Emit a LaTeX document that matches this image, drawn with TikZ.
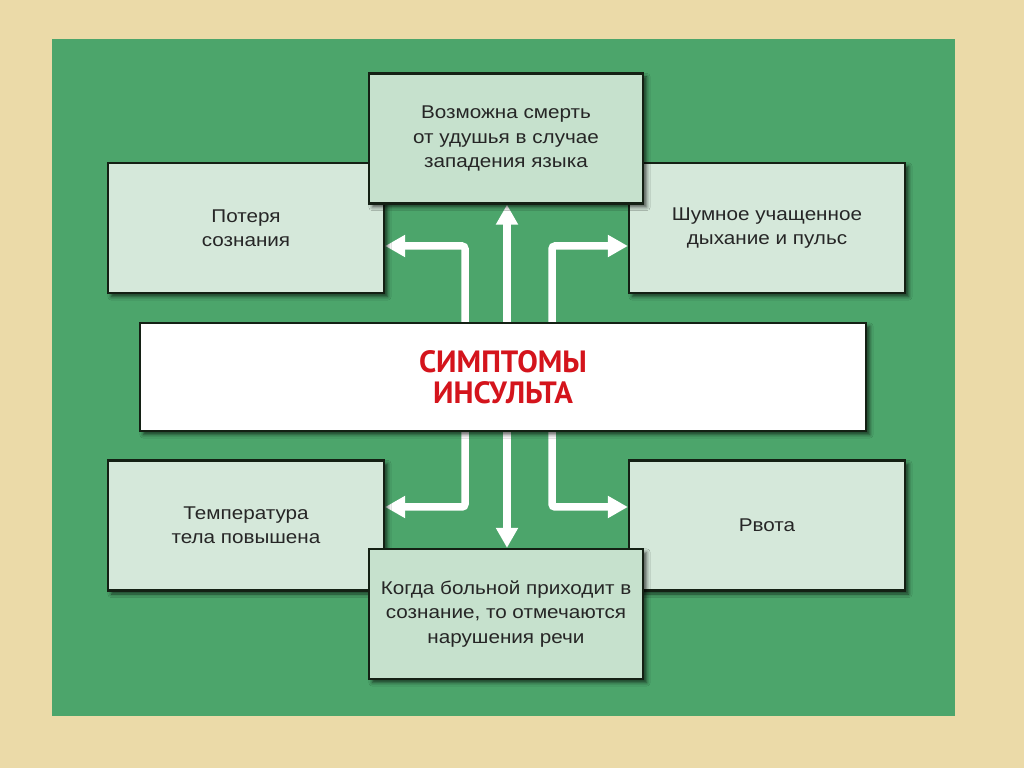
\documentclass[tikz,border=0pt]{standalone}
\usepackage{fontspec}
\setmainfont{Liberation Sans}[FakeStretch=1.12]
\newfontfamily\titlefont{PT Sans}
\usetikzlibrary{arrows.meta,positioning,shadows.blur,backgrounds}

\definecolor{paper}{HTML}{EBDAA8}
\definecolor{panel}{HTML}{4CA56B}
\definecolor{boxfill}{HTML}{D5E8DA}
\definecolor{boxfilldark}{HTML}{C6E1CD}
\definecolor{titlered}{HTML}{D4141C}
\definecolor{edge}{HTML}{142014}

\tikzset{
  symbox/.style={draw=edge, line width=0.45mm, fill=boxfill, align=center,
    minimum width=55.2mm, minimum height=26mm, inner sep=0pt,
    font=\fontsize{10.5}{13.7}\selectfont, text=black!85,
    blur shadow={shadow xshift=0.7mm, shadow yshift=-0.7mm,
      shadow blur steps=5, shadow opacity=65}},
  keybox/.style={symbox, fill=boxfilldark, minimum width=54.8mm, minimum height=26mm},
  mainbox/.style={symbox, fill=white, minimum width=145.2mm, minimum height=21.6mm,
    font=\titlefont\bfseries\fontsize{17.5}{17.8}\selectfont, text=titlered},
  arr/.style={draw=white, line width=1.5mm, rounded corners=0.6mm,
    -{Triangle[length=4mm,width=4.2mm]}},
}

\begin{document}
\begin{tikzpicture}[x=0.2mm, y=-0.2mm]
  \useasboundingbox (0,0) rectangle (1024,768);

  % side boxes
  \node[symbox] (lt) at (246,228)   {Потеря\\сознания};
  \node[symbox] (rt) at (767,228)   {Шумное учащенное\\дыхание и пульс};
  \node[symbox] (lb) at (246,525.5) {Температура\\тела повышена};
  \node[symbox] (rb) at (767,525.5) {Рвота};
  % top and bottom boxes
  \node[keybox] (top) at (506,138.5) {Возможна смерть\\от удушья в случае\\западения языка};
  \node[keybox] (bot) at (506,614)   {Когда больной приходит в\\сознание, то отмечаются\\нарушения речи};
  % centre
  \node[mainbox] (cent) at (503,377) {СИМПТОМЫ\\ИНСУЛЬТА};

  \coordinate (kl) at (465,246);
  \coordinate (kr) at (552,246);
  \coordinate (ml) at (465,507);
  \coordinate (mr) at (552,507);
  \coordinate (mc) at (507,377);

  \begin{scope}[on background layer]
    \fill[paper] (0,0) rectangle (1024,768);
    \fill[panel] (52,39) rectangle (955,716);
    \draw[arr] (kl |- cent.north) |- (lt.east |- kl);
    \draw[arr] (kr |- cent.north) |- (rt.west |- kr);
    \draw[arr] (mc |- cent.north) -- (mc |- top.south);
    \draw[arr] (ml |- cent.south) |- (lb.east |- ml);
    \draw[arr] (mr |- cent.south) |- (rb.west |- mr);
    \draw[arr] (mc |- cent.south) -- (mc |- bot.north);
  \end{scope}
\end{tikzpicture}
\end{document}
